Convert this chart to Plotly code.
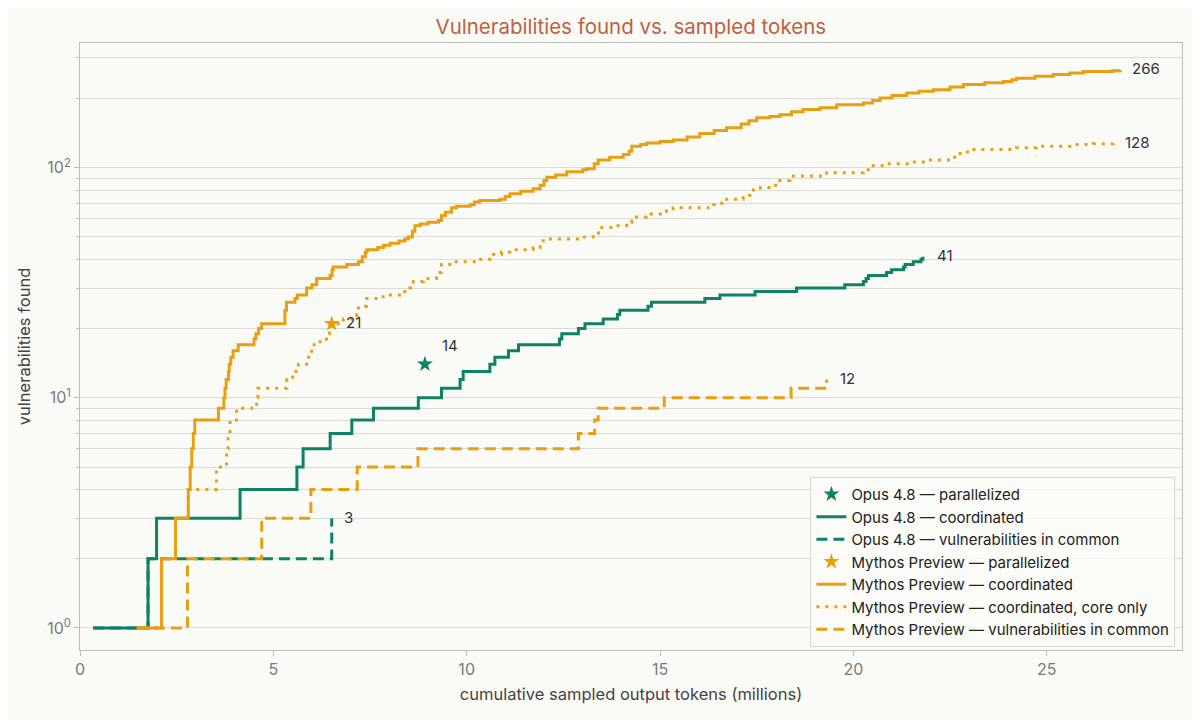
import math
import plotly.graph_objects as go

# colours
green = "#0D8360"
orange = "#E89F10"

# Opus 4.8 — coordinated (step curve)
opus_coord_x = [0.34, 1.76, 1.98, 4.14, 5.61, 5.77, 6.47, 7.03, 7.59, 8.75, 9.35, 9.83, 9.91,
                10.60, 10.73, 11.08, 11.34, 12.40, 12.46, 12.89, 13.06, 13.53, 13.90, 13.96,
                14.69, 14.78, 16.16, 16.55, 17.46, 18.53, 19.78, 20.26, 20.33, 20.39, 20.86,
                20.99, 21.30, 21.34, 21.55, 21.75, 21.80]
opus_coord_y = [1, 2, 3, 4, 5, 6, 7, 8, 9, 10, 11, 12, 13,
                14, 15, 16, 17, 18, 19, 20, 21, 22, 23, 24,
                25, 26, 27, 28, 29, 30, 31, 32, 33, 34, 35,
                36, 37, 38, 39, 40, 41]

# Opus 4.8 — vulnerabilities in common
opus_common_x = [0.34, 1.76, 6.51]
opus_common_y = [1, 2, 3]

# Opus 4.8 — parallelized
opus_par_x = [8.92]
opus_par_y = [14]

# Mythos Preview — coordinated
mythos_coord_x = [1.47, 2.11, 2.47, 2.80, 2.85, 2.89, 2.93, 2.97, 3.58, 3.72, 3.75, 3.78, 3.84,
                  3.86, 3.90, 3.96, 4.09, 4.50, 4.55, 4.62, 4.70, 5.30, 5.34, 5.56, 5.62, 5.86,
                  6.00, 6.12, 6.47, 6.52, 6.55, 6.90, 7.20, 7.30, 7.38, 7.42, 7.70, 7.85, 8.02,
                  8.25, 8.40, 8.49, 8.60, 8.66, 8.80, 9.00, 9.27, 9.35, 9.45, 9.61, 9.74, 10.09,
                  10.20, 10.34, 10.86, 11.00, 11.12, 11.40, 11.72, 11.90, 12.00, 12.07, 12.30,
                  12.59, 13.00, 13.10, 13.30, 13.40, 13.70, 14.05, 14.20, 14.27, 14.50, 14.65,
                  15.00, 15.34, 15.70, 16.03, 16.40, 16.72, 17.10, 17.30, 17.50, 17.84, 18.10,
                  18.40, 18.70, 19.14, 19.57, 20.26, 20.50, 20.69, 21.00, 21.38, 21.70, 22.07,
                  22.50, 22.85, 23.40, 23.88, 24.10, 24.22, 24.70, 25.17, 25.60, 25.95, 26.70,
                  26.90]
mythos_coord_y = [1, 2, 3, 4, 5, 6, 7, 8, 9, 10, 11, 12, 13,
                  14, 15, 16, 17, 18, 19, 20, 21, 24, 26, 27, 28, 30,
                  31, 33, 34, 36, 37, 38, 39, 41, 43, 44, 45, 46, 47,
                  48, 49, 50, 53, 56, 57, 58, 59, 62, 64, 67, 68, 69,
                  71, 72, 73, 75, 77, 79, 81, 84, 88, 91, 93,
                  96, 98, 99, 104, 108, 111, 114, 118, 124, 126, 128,
                  130, 132, 136, 141, 145, 149, 155, 160, 165, 167, 170,
                  175, 179, 182, 188, 191, 196, 201, 206, 211, 215, 218,
                  224, 230, 234, 237, 241, 245, 250, 254, 258, 262, 264,
                  266]

# Mythos Preview — coordinated, core only
mythos_core_x = [1.47, 2.11, 2.47, 2.80, 3.53, 3.79, 3.83, 3.88, 4.05, 4.57, 4.60, 5.35, 5.50,
                 5.65, 5.91, 5.99, 6.21, 6.38, 6.45, 6.51, 6.81, 7.16, 7.20, 7.41, 7.84, 8.36,
                 8.53, 8.62, 8.88, 9.22, 9.27, 9.35, 9.65, 10.26, 10.69, 10.90, 11.12, 11.72,
                 11.90, 11.98, 12.93, 13.27, 13.45, 13.79, 14.14, 14.27, 14.65, 15.17, 15.34,
                 16.38, 16.50, 16.64, 17.15, 17.33, 17.60, 17.93, 18.10, 18.36, 19.31, 20.26,
                 20.43, 20.86, 21.50, 21.90, 22.50, 22.76, 23.02, 24.22, 24.74, 25.60, 26.20,
                 26.72]
mythos_core_y = [1, 2, 3, 4, 5, 6, 7, 8, 9, 10, 11, 12, 13,
                 14, 15, 17, 18, 19, 20, 21, 22, 23, 25, 27, 28, 29,
                 30, 32, 33, 34, 35, 38, 39, 40, 42, 43, 44, 45,
                 47, 49, 50, 52, 55, 56, 58, 61, 63, 65, 67,
                 69, 70, 73, 76, 80, 82, 84, 88, 92, 95, 98,
                 102, 104, 106, 108, 111, 117, 120, 122, 124, 126, 127,
                 128]

# Mythos Preview — vulnerabilities in common
mythos_common_x = [1.47, 2.78, 4.70, 5.97, 7.17, 8.74, 12.89, 13.31, 13.40, 15.11, 18.39, 19.31]
mythos_common_y = [1, 2, 3, 4, 5, 6, 7, 8, 9, 10, 11, 12]

# Mythos Preview — parallelized
mythos_par_x = [6.51]
mythos_par_y = [21]

font = "Inter"
grey = "#7A7A76"
axis_col = "#BDBDB8"
grid_col = "#DADAD6"

fig = go.Figure()

fig.add_trace(go.Scatter(x=opus_par_x, y=opus_par_y, mode="markers",
                         marker=dict(symbol="star", size=12, color=green),
                         name="Opus 4.8 — parallelized"))
fig.add_trace(go.Scatter(x=opus_coord_x, y=opus_coord_y, mode="lines", line_shape="hv",
                         line=dict(color=green, width=3),
                         name="Opus 4.8 — coordinated"))
fig.add_trace(go.Scatter(x=opus_common_x, y=opus_common_y, mode="lines", line_shape="hv",
                         line=dict(color=green, width=3, dash="11px,6px"),
                         name="Opus 4.8 — vulnerabilities in common"))
fig.add_trace(go.Scatter(x=mythos_par_x, y=mythos_par_y, mode="markers",
                         marker=dict(symbol="star", size=12, color=orange),
                         name="Mythos Preview — parallelized"))
fig.add_trace(go.Scatter(x=mythos_coord_x, y=mythos_coord_y, mode="lines", line_shape="hv",
                         line=dict(color=orange, width=3),
                         name="Mythos Preview — coordinated"))
fig.add_trace(go.Scatter(x=mythos_core_x, y=mythos_core_y, mode="lines", line_shape="hv",
                         line=dict(color=orange, width=3, dash="3px,6px"),
                         name="Mythos Preview — coordinated, core only"))
fig.add_trace(go.Scatter(x=mythos_common_x, y=mythos_common_y, mode="lines", line_shape="hv",
                         line=dict(color=orange, width=3, dash="11px,6px"),
                         name="Mythos Preview — vulnerabilities in common"))

# end labels (annotation y on a log axis is given in log10 units)
ends = [
    (opus_par_x[-1], opus_par_y[-1], 15, 18),
    (opus_coord_x[-1], opus_coord_y[-1], 12, 0),
    (opus_common_x[-1], opus_common_y[-1], 10, 0),
    (mythos_par_x[-1], mythos_par_y[-1], 12, 0),
    (mythos_coord_x[-1], mythos_coord_y[-1], 10, 0),
    (mythos_core_x[-1], mythos_core_y[-1], 10, 0),
    (mythos_common_x[-1], mythos_common_y[-1], 11, 0),
]
for ex, ey, dx, dy in ends:
    fig.add_annotation(x=ex, y=math.log10(ey), text=str(ey), showarrow=False,
                       xanchor="left", yanchor="middle", xshift=dx, yshift=dy + 1,
                       font=dict(family=font, size=15, color="#333333"))

minor_vals = [v * m for m in (1, 10, 100) for v in range(2, 10)]

# the page puts the figure 8px in from the top left corner, margins allow for that
fig.update_layout(
    width=1200, height=720,
    paper_bgcolor="#FAFAF7", plot_bgcolor="#FAFAF7",
    margin=dict(l=72, r=26, t=35, b=78),
    font=dict(family=font, size=14, color="#333333"),
    title=dict(text="Vulnerabilities found vs. sampled tokens", x=0.519, xanchor="center",
               y=0.974, yanchor="middle", font=dict(family=font, size=20.5, color="#C0603F")),
    showlegend=True,
    legend=dict(x=0.994, y=0.005, xanchor="right", yanchor="bottom",
                bgcolor="rgba(250,250,247,0.85)", bordercolor="#D6D6D2", borderwidth=1,
                font=dict(family=font, size=15, color="#222222"), tracegroupgap=0,
                itemwidth=30),
    xaxis=dict(range=[0, 28.5], tickvals=[0, 5, 10, 15, 20, 25], showgrid=False,
               zeroline=False, showline=True, linecolor=axis_col, mirror=True,
               ticks="outside", ticklen=5, tickcolor=axis_col,
               tickfont=dict(size=16, color=grey),
               title=dict(text="cumulative sampled output tokens (millions)",
                          font=dict(size=16.5, color="#444444"), standoff=10)),
    yaxis=dict(type="log", range=[-0.096, 2.542], tickvals=[1, 10, 100],
               ticktext=["10<sup>0</sup>", "10<sup>1</sup>", "10<sup>2</sup>"],
               showgrid=True, gridcolor=grid_col, gridwidth=1,
               zeroline=False, showline=True, linecolor=axis_col, mirror=True,
               ticks="outside", ticklen=5, tickcolor=axis_col,
               tickfont=dict(size=16, color=grey),
               minor=dict(tickmode="array", tickvals=minor_vals, ticks="outside",
                          ticklen=3, tickcolor=axis_col, showgrid=True,
                          gridcolor=grid_col, gridwidth=1),
               title=dict(text="vulnerabilities found", font=dict(size=16.5, color="#444444"),
                          standoff=12)),
)

fig.write_html("out.html")
